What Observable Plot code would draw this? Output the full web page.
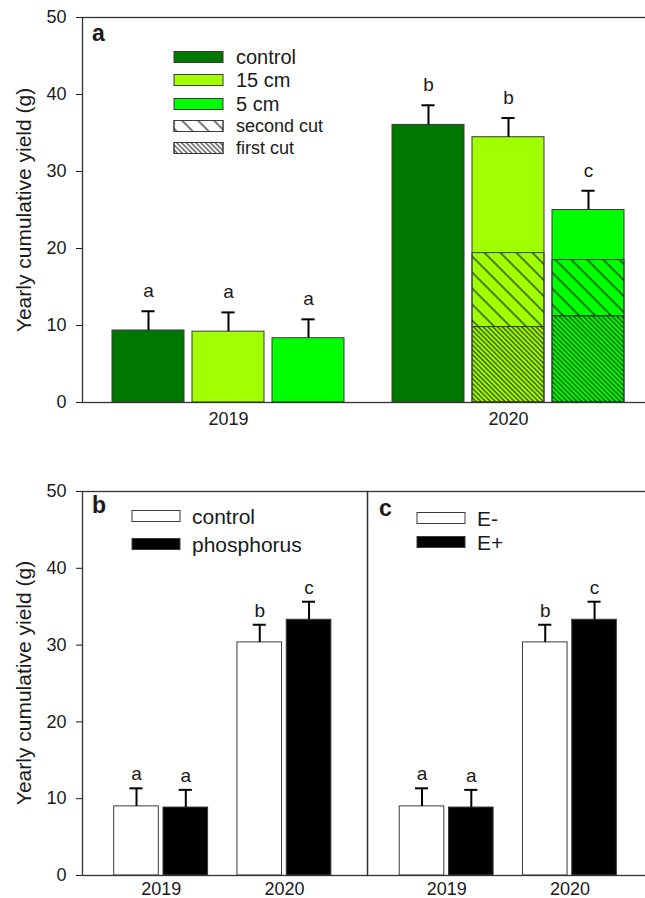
<!DOCTYPE html>
<html><head><meta charset="utf-8">
<script src="https://cdn.jsdelivr.net/npm/d3@7"></script>
<script src="https://cdn.jsdelivr.net/npm/@observablehq/plot@0.6"></script>
<style>
html,body{margin:0;padding:0;background:#fff;overflow:hidden;}
#fig{position:relative;width:645px;height:898px;overflow:hidden;font-family:"Liberation Sans",Arial,sans-serif;color:#1a1a1a;}
#fig svg{max-width:none !important;}
.panel{position:absolute;top:0;left:0;}
.lgtext{position:absolute;white-space:nowrap;line-height:1;transform:translateY(-50%);}
.sw{position:absolute;transform:translateY(-50%);}
.pl{position:absolute;font-weight:bold;font-size:23px;line-height:1;}
.ylab{position:absolute;white-space:nowrap;font-size:21px;line-height:1;transform:translate(-50%,-50%) rotate(-90deg);}
</style></head><body>
<svg width="0" height="0" style="position:absolute">
<defs>
<pattern id="hatchWide" patternUnits="userSpaceOnUse" width="11.3" height="11.3" patternTransform="rotate(-45)">
<line x1="5.65" y1="-1" x2="5.65" y2="12.3" stroke="#000" stroke-width="1"/>
</pattern>
<pattern id="hatchDense" patternUnits="userSpaceOnUse" width="3.4" height="3.4" patternTransform="rotate(-45)">
<line x1="1.7" y1="-1" x2="1.7" y2="4.4" stroke="#000" stroke-width="0.9"/>
</pattern>
</defs></svg>
<div id="fig"></div>
<script>
// ---------- data ----------
const years = ["2019", "2020"];
const yTicks = [0, 10, 20, 30, 40, 50];
const yLabel = "Yearly cumulative yield (g)";

// panel a
const treatmentsA = ["control", "15 cm", "5 cm"];
const colorsA = ["#007800", "#a0ff00", "#00ff00"];
const meanA2019 = [9.35, 9.2, 8.35];
const errA2019 = [2.5, 2.5, 2.45];
const letterA2019 = ["a", "a", "a"];
const meanA2020 = [36.05, 34.45, 25.0];
const errA2020 = [2.55, 2.5, 2.5];
const letterA2020 = ["b", "b", "c"];
const firstCut2020 = [null, 9.8, 11.2];   // first cut yield
const secondCut2020 = [null, 9.6, 7.3];   // second cut yield (stacked on first)
const cutNames = ["second cut", "first cut"];

// panel b
const treatmentsB = ["control", "phosphorus"];
const meanB2019 = [9.0, 8.85];
const errB2019 = [2.35, 2.3];
const letterB2019 = ["a", "a"];
const meanB2020 = [30.35, 33.3];
const errB2020 = [2.3, 2.35];
const letterB2020 = ["b", "c"];

// panel c
const treatmentsC = ["E-", "E+"];
const meanC2019 = [9.0, 8.85];
const errC2019 = [2.35, 2.3];
const letterC2019 = ["a", "a"];
const meanC2020 = [30.35, 33.3];
const errC2020 = [2.3, 2.35];
const letterC2020 = ["b", "c"];

const bwFills = ["#ffffff", "#000000"];

// ---------- tables (slot position = year group * group step + treatment index) ----------
function table(treatments, means, errs, letters, groupStep) {
  return years.flatMap((yr, i) => treatments.map((t, j) => ({
    year: yr, treatment: t, pos: i * groupStep + j,
    mean: means[i][j], err: errs[i][j], letter: letters[i][j]
  })));
}
const rowsA = table(treatmentsA, [meanA2019, meanA2020], [errA2019, errA2020], [letterA2019, letterA2020], 3.5);
const rowsB = table(treatmentsB, [meanB2019, meanB2020], [errB2019, errB2020], [letterB2019, letterB2020], 2.5);
const rowsC = table(treatmentsC, [meanC2019, meanC2020], [errC2019, errC2020], [letterC2019, letterC2020], 2.5);
const cutRows = (which) => treatmentsA.flatMap((t, j) => firstCut2020[j] == null ? [] : [{
  treatment: t, pos: 1 * 3.5 + j,
  y1: which === "first" ? 0 : firstCut2020[j],
  y2: which === "first" ? firstCut2020[j] : firstCut2020[j] + secondCut2020[j]
}]);

const FONT = '"Liberation Sans", Arial, sans-serif';
const errTop = d => d.mean + d.err;

function panel({rows, treatments, fills, groupStep, width, height, marginLeft, marginRight, marginTop, marginBottom,
                unitPx, firstOffset, halfBar, capHalf, letterDy, xPad, showY, extra = []}) {
  const frameW = width - marginLeft - marginRight;
  const x0 = -firstOffset / unitPx;
  const yearPos = years.map((y, i) => i * groupStep + (treatments.length - 1) / 2);
  return Plot.plot({
    width, height, marginLeft, marginRight, marginTop, marginBottom,
    style: {fontFamily: FONT, fontSize: "18px", color: "#1a1a1a", background: "transparent", overflow: "visible"},
    x: {type: "linear", domain: [x0, x0 + frameW / unitPx], axis: null},
    y: {domain: [0, 50], axis: null},
    color: {domain: treatments, range: fills},
    marks: [
      Plot.rectY(rows, {x1: d => d.pos - halfBar, x2: d => d.pos + halfBar, y: "mean", fill: "treatment", stroke: "#3a3a3a", strokeWidth: 1}),
      ...extra.map(([data, fill]) => Plot.rectY(data, {x1: d => d.pos - halfBar, x2: d => d.pos + halfBar, y1: "y1", y2: "y2", fill, stroke: "#3a3a3a", strokeWidth: 1})),
      Plot.ruleX(rows, {x: "pos", y1: "mean", y2: errTop, stroke: "#000", strokeWidth: 2}),
      Plot.ruleY(rows, {y: errTop, x1: d => d.pos - capHalf, x2: d => d.pos + capHalf, stroke: "#000", strokeWidth: 2}),
      Plot.text(rows, {x: "pos", y: errTop, text: "letter", dy: letterDy, lineAnchor: "bottom", fontSize: 19, fill: "#1a1a1a"}),
      ...(showY ? [Plot.axisY({ticks: yTicks, tickSize: 6, tickPadding: 10, label: null, fontSize: 18})] : []),
      Plot.axisX({ticks: yearPos, tickFormat: v => years[yearPos.indexOf(v)], tickSize: 0, tickPadding: xPad, label: null, fontSize: 18}),
      Plot.frame({stroke: "#333", strokeWidth: 1.3})
    ]
  });
}

const fig = document.getElementById("fig");
function place(el, left, topPx) {
  el.classList.add("panel");
  el.style.left = left + "px";
  el.style.top = topPx + "px";
  fig.appendChild(el);
}

place(panel({
  rows: rowsA, treatments: treatmentsA, fills: colorsA, groupStep: 3.5,
  width: 655, height: 448, marginLeft: 82, marginRight: 1, marginTop: 17, marginBottom: 46,
  unitPx: 80, firstOffset: 66, halfBar: 0.45, capHalf: 0.082, letterDy: -14, xPad: 10, showY: true,
  extra: [[cutRows("first"), "url(#hatchDense)"], [cutRows("second"), "url(#hatchWide)"]]
}), 0, 0);

place(panel({
  rows: rowsB, treatments: treatmentsB, fills: bwFills, groupStep: 2.5,
  width: 368, height: 450, marginLeft: 82, marginRight: 1, marginTop: 43, marginBottom: 23,
  unitPx: 49.3, firstOffset: 54, halfBar: 0.4525, capHalf: 0.133, letterDy: -8, xPad: 7, showY: true
}), 0, 448);

place(panel({
  rows: rowsC, treatments: treatmentsC, fills: bwFills, groupStep: 2.5,
  width: 300, height: 450, marginLeft: 1, marginRight: 13, marginTop: 43, marginBottom: 23,
  unitPx: 49.3, firstOffset: 54.5, halfBar: 0.4525, capHalf: 0.133, letterDy: -8, xPad: 7, showY: false
}), 366, 448);

// ---------- legends, axis titles & panel labels ----------
function swatch(left, cy, w, h, fill, pattern) {
  const ns = "http://www.w3.org/2000/svg";
  const s = document.createElementNS(ns, "svg");
  s.setAttribute("width", w + 2); s.setAttribute("height", h + 2);
  s.classList.add("sw");
  s.style.left = (left - 1) + "px"; s.style.top = cy + "px";
  const r = document.createElementNS(ns, "rect");
  r.setAttribute("x", 1); r.setAttribute("y", 1); r.setAttribute("width", w); r.setAttribute("height", h);
  r.setAttribute("fill", fill); r.setAttribute("stroke", "#3a3a3a"); r.setAttribute("stroke-width", 1);
  s.appendChild(r);
  if (pattern) {
    const p = r.cloneNode(); p.setAttribute("fill", pattern); s.appendChild(p);
  }
  fig.appendChild(s);
}
function label(text, left, cy, size, cls = "lgtext") {
  const d = document.createElement("div");
  d.className = cls; d.textContent = text;
  d.style.left = left + "px"; d.style.top = cy + "px";
  if (size) d.style.fontSize = size + "px";
  fig.appendChild(d);
}
// panel a legend
const legA = [
  ...treatmentsA.map((t, j) => ({name: t, fill: colorsA[j], pattern: null, size: 20})),
  {name: cutNames[0], fill: "#fff", pattern: "url(#hatchWide)", size: 18},
  {name: cutNames[1], fill: "#fff", pattern: "url(#hatchDense)", size: 18}
];
const legAY = [56.5, 79.5, 104, 126.3, 147.5];
legA.forEach((d, i) => { swatch(174, legAY[i], 49, 11, d.fill, d.pattern); label(d.name, 236, legAY[i], d.size); });
// panel b legend
const legBY = [516, 544];
treatmentsB.forEach((t, i) => { swatch(132, legBY[i], 48, 11, bwFills[i], null); label(t, 192, legBY[i], 21); });
// panel c legend
const legCY = [517.5, 541.5];
treatmentsC.forEach((t, i) => { swatch(417, legCY[i], 48, 11, bwFills[i], null); label(t, 477, legCY[i], 21); });
// y axis titles
label(yLabel, 23, 209.5, null, "ylab");
label(yLabel, 23, 683, null, "ylab");
// panel letters
const pl = (t, l, tp) => { const d = document.createElement("div"); d.className = "pl"; d.textContent = t; d.style.left = l + "px"; d.style.top = tp + "px"; fig.appendChild(d); };
pl("a", 92, 22); pl("b", 92, 494); pl("c", 379, 497);
</script>
</body></html>
